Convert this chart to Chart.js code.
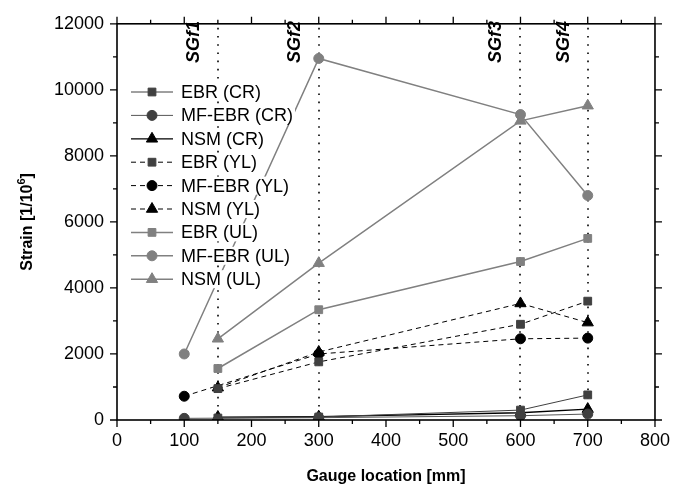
<!DOCTYPE html>
<html><head><meta charset="utf-8">
<script src="https://cdn.jsdelivr.net/npm/chart.js@4.4.1/dist/chart.umd.min.js"></script>
<style>html,body{margin:0;padding:0;background:#fff}#wrap{width:680px;height:496px}</style>
</head><body><div id="wrap"><canvas id="c" width="680" height="496"></canvas></div>
<script>
// ---- data ----
const xMF = [100, 300, 600, 700];          // MF-EBR gauge locations
const xEN = [150, 300, 600, 700];          // EBR / NSM gauge locations
const ebrCR   = [60, 90, 300, 760];
const mfebrCR = [50, 70, 130, 180];
const nsmCR   = [90, 100, 220, 330];
const ebrYL   = [950, 1760, 2900, 3600];
const mfebrYL = [720, 2000, 2460, 2480];
const nsmYL   = [980, 2060, 3530, 2950];
const ebrUL   = [1560, 3340, 4800, 5500];
const mfebrUL = [2000, 10950, 9250, 6800];
const nsmUL   = [2460, 4750, 9060, 9520];
const seriesLabels = ['EBR (CR)','MF-EBR (CR)','NSM (CR)','EBR (YL)','MF-EBR (YL)','NSM (YL)','EBR (UL)','MF-EBR (UL)','NSM (UL)'];
const gaugeLines = [150, 300, 600, 700];
const gaugeLabels = ['SGf1','SGf2','SGf3','SGf4'];
const xTitle = 'Gauge location [mm]';
const yTitleMain = 'Strain [1/10';
const yTitleSup = '6';
const yTitleEnd = ']';

const FONT = "'Liberation Sans', Arial, sans-serif";
const GRAY = '#808080', DARK = '#404040', BLACK = '#000000';

function pts(xs, ys){ return xs.map((x,i)=>({x:x, y:ys[i]})); }
function ds(label, xs, ys, color, lineColor, style, radius, width, dash){
  return {label, data: pts(xs, ys), borderColor: lineColor, backgroundColor: color,
    pointBackgroundColor: color, pointBorderColor: color, pointBorderWidth: 1,
    pointStyle: style, pointRadius: radius, pointHoverRadius: radius,
    borderWidth: width, borderDash: dash || [], tension: 0, fill: false};
}
const datasets = [
  ds(seriesLabels[0], xEN, ebrCR,   DARK,  DARK,  'rect',     5.5, 1),
  ds(seriesLabels[1], xMF, mfebrCR, DARK,  '#555555', 'circle', 5, 1),
  ds(seriesLabels[2], xEN, nsmCR,   BLACK, BLACK, 'triangle', 6.5, 1.3),
  ds(seriesLabels[3], xEN, ebrYL,   DARK,  BLACK, 'rect',     5.5, 1, [5,4]),
  ds(seriesLabels[4], xMF, mfebrYL, BLACK, BLACK, 'circle',   5, 1, [5,4]),
  ds(seriesLabels[5], xEN, nsmYL,   BLACK, BLACK, 'triangle', 6.5, 1, [5,4]),
  ds(seriesLabels[6], xEN, ebrUL,   GRAY,  GRAY,  'rect',     5.5, 1.5),
  ds(seriesLabels[7], xMF, mfebrUL, GRAY,  GRAY,  'circle',   5, 1.5),
  ds(seriesLabels[8], xEN, nsmUL,   GRAY,  GRAY,  'triangle', 6.5, 1.5)
];

const decor = {
  id: 'decor',
  beforeDatasetsDraw(chart){
    const ctx = chart.ctx, a = chart.chartArea, xs = chart.scales.x;
    ctx.save();
    ctx.strokeStyle = '#000'; ctx.lineWidth = 1.6; ctx.setLineDash([1.6, 6.6]);
    gaugeLines.forEach(v=>{
      const px = Math.round(xs.getPixelForValue(v));
      ctx.beginPath(); ctx.moveTo(px, a.top + 4); ctx.lineTo(px, a.bottom); ctx.stroke();
    });
    ctx.setLineDash([]);
    ctx.fillStyle = '#000';
    ctx.font = 'italic bold 18px ' + FONT;
    ctx.textAlign = 'left'; ctx.textBaseline = 'alphabetic';
    gaugeLines.forEach((v,i)=>{
      const px = xs.getPixelForValue(v);
      ctx.save(); ctx.translate(px - 19, 63); ctx.rotate(-Math.PI/2);
      ctx.fillText(gaugeLabels[i], 0, 0); ctx.restore();
    });
    ctx.restore();
  },
  afterDatasetsDraw(chart){
    const ctx = chart.ctx, a = chart.chartArea, xs = chart.scales.x, ys = chart.scales.y;
    ctx.save();
    // box
    ctx.strokeStyle = '#000'; ctx.lineWidth = 1.6;
    ctx.strokeRect(a.left, a.top, a.right - a.left, a.bottom - a.top);
    // ticks x (bottom and top)
    ctx.lineWidth = 1.3;
    for (let v = 0; v <= 800; v += 50){
      const px = xs.getPixelForValue(v); const len = (v % 100 === 0) ? 7 : 4;
      ctx.beginPath(); ctx.moveTo(px, a.bottom); ctx.lineTo(px, a.bottom + len);
      ctx.moveTo(px, a.top); ctx.lineTo(px, a.top - len); ctx.stroke();
    }
    for (let v = 0; v <= 12000; v += 1000){
      const py = ys.getPixelForValue(v); const len = (v % 2000 === 0) ? 7 : 4;
      ctx.beginPath(); ctx.moveTo(a.left, py); ctx.lineTo(a.left - len, py);
      ctx.moveTo(a.right, py); ctx.lineTo(a.right + len, py); ctx.stroke();
    }
    // legend
    const lx0 = 131, lx1 = 173, tx = 181, y0 = 92, dy = 23.4;
    ctx.font = '18px ' + FONT; ctx.textBaseline = 'middle'; ctx.textAlign = 'left';
    chart.data.datasets.forEach((d,i)=>{
      const y = y0 + i*dy;
      const w = ctx.measureText(d.label).width;
      ctx.fillStyle = '#fff'; ctx.fillRect(tx - 2, y - 9, w + 4, 18);
      ctx.strokeStyle = d.borderColor; ctx.lineWidth = d.borderWidth;
      ctx.setLineDash(d.borderDash || []);
      ctx.beginPath(); ctx.moveTo(lx0, y); ctx.lineTo(lx1, y); ctx.stroke();
      ctx.setLineDash([]);
      ctx.fillStyle = d.pointBackgroundColor; ctx.strokeStyle = d.pointBorderColor; ctx.lineWidth = 1;
      Chart.helpers.drawPoint(ctx, {pointStyle: d.pointStyle, radius: d.pointRadius, borderWidth: 1}, (lx0+lx1)/2, y);
      ctx.fillStyle = '#000'; ctx.fillText(d.label, tx, y + 1);
    });
    // axis titles
    ctx.font = 'bold 16px ' + FONT; ctx.textAlign = 'center'; ctx.textBaseline = 'middle';
    ctx.fillText(xTitle, (a.left + a.right)/2, 477);
    ctx.save();
    ctx.translate(28, (a.top + a.bottom)/2); ctx.rotate(-Math.PI/2);
    const w1 = ctx.measureText(yTitleMain).width;
    ctx.font = 'bold 11px ' + FONT; const w2 = ctx.measureText(yTitleSup).width;
    ctx.font = 'bold 16px ' + FONT; const w3 = ctx.measureText(yTitleEnd).width;
    let sx = -(w1 + w2 + w3)/2;
    ctx.textAlign = 'left';
    ctx.fillText(yTitleMain, sx, 0); sx += w1;
    ctx.font = 'bold 11px ' + FONT; ctx.fillText(yTitleSup, sx, -6); sx += w2;
    ctx.font = 'bold 16px ' + FONT; ctx.fillText(yTitleEnd, sx, 0);
    ctx.restore();
    ctx.restore();
  }
};

new Chart(document.getElementById('c'), {
  type: 'line',
  data: { datasets },
  options: {
    responsive: false, animation: false,
    layout: { padding: { top: 16, right: 20, left: 0, bottom: 0 } },
    plugins: { legend: { display: false }, tooltip: { enabled: false } },
    scales: {
      x: { type: 'linear', min: 0, max: 800,
        grid: { display: false, drawTicks: false }, border: { display: false },
        ticks: { stepSize: 100, padding: 10, color: '#000', font: { family: FONT, size: 18 },
          callback: v => String(v) },
        afterFit(s){ s.height = 76; } },
      y: { type: 'linear', min: 0, max: 12000,
        grid: { display: false, drawTicks: false }, border: { display: false },
        ticks: { stepSize: 2000, padding: 13, color: '#000', font: { family: FONT, size: 18 },
          callback: v => String(v) },
        afterFit(s){ s.width = 117; } }
    }
  },
  plugins: [decor]
});
</script></body></html>
